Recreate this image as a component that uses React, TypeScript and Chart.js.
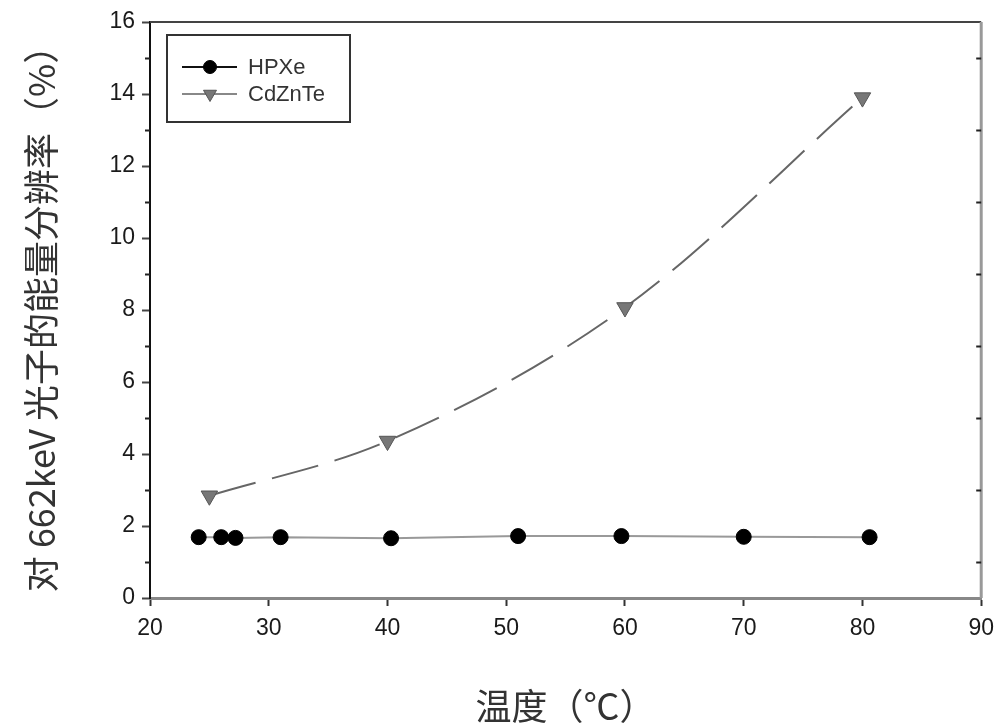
import React, { useEffect, useRef } from "react";
import { Chart, registerables } from "chart.js";

Chart.register(...registerables);

// ---- data ----
const hpxeTemps = [24.1, 26.0, 27.2, 31.0, 40.3, 51.0, 59.7, 70.0, 80.6];
const hpxeRes = [1.69, 1.69, 1.67, 1.69, 1.66, 1.72, 1.72, 1.70, 1.69];
const czTemps = [25, 40, 60, 80];
const czRes = [2.84, 4.36, 8.07, 13.9];
const seriesNames = ["HPXe", "CdZnTe"];
const xTitle = "温度（℃）";
const yTitle = "对 662keV 光子的能量分辨率（%）";
const xRange = [20, 90];
const yRange = [0, 16];

const TICK_FONT = "Liberation Sans, Arial, sans-serif";
const CJK_FONT = "'Noto Sans CJK SC', sans-serif";

const framePlugin = {
  id: "frame",
  afterDraw(chart: any) {
    const { ctx, chartArea } = chart;
    const { left, right, top, bottom } = chartArea;
    const y = chart.scales.y;
    ctx.save();
    ctx.strokeStyle = "#444";
    ctx.lineWidth = 2;
    ctx.beginPath();
    ctx.moveTo(left, top);
    ctx.lineTo(right, top);
    ctx.stroke();
    ctx.strokeStyle = "#999";
    ctx.lineWidth = 3;
    ctx.beginPath();
    ctx.moveTo(right, top);
    ctx.lineTo(right, bottom);
    ctx.stroke();
    ctx.strokeStyle = "#222";
    ctx.lineWidth = 2;
    for (let v = yRange[0] + 1; v < yRange[1]; v += 2) {
      const py = Math.round(y.getPixelForValue(v)) + 0.5;
      ctx.beginPath();
      ctx.moveTo(left - 5, py);
      ctx.lineTo(left, py);
      ctx.moveTo(right - 5, py);
      ctx.lineTo(right, py);
      ctx.stroke();
    }
    ctx.restore();
  },
};

const legendPlugin = {
  id: "boxLegend",
  afterDraw(chart: any) {
    const { ctx } = chart;
    const ds = chart.data.datasets;
    ctx.save();
    ctx.strokeStyle = "#333";
    ctx.lineWidth = 2;
    ctx.strokeRect(167, 35, 183, 87);
    const rows = [67, 94];
    ds.forEach((d: any, i: number) => {
      const ry = rows[i];
      ctx.strokeStyle = i === 0 ? "#111" : "#888";
      ctx.lineWidth = 2;
      ctx.setLineDash([]);
      ctx.beginPath();
      ctx.moveTo(182, ry);
      ctx.lineTo(237, ry);
      ctx.stroke();
      ctx.fillStyle = d.pointBackgroundColor;
      ctx.strokeStyle = d.pointBorderColor;
      ctx.lineWidth = 1;
      ctx.beginPath();
      if (i === 0) {
        ctx.arc(210, ry, 6.5, 0, Math.PI * 2);
      } else {
        const r = 7.5;
        ctx.moveTo(210, ry + r);
        ctx.lineTo(210 - r * 0.866, ry - r / 2);
        ctx.lineTo(210 + r * 0.866, ry - r / 2);
        ctx.closePath();
      }
      ctx.fill();
      ctx.stroke();
      ctx.fillStyle = "#333";
      ctx.font = `22px ${TICK_FONT}`;
      ctx.textBaseline = "middle";
      ctx.textAlign = "left";
      ctx.fillText(d.label, 248, ry + 1);
    });
    ctx.restore();
  },
};

export default function App() {
  const ref = useRef<HTMLCanvasElement | null>(null);
  useEffect(() => {
    if (!ref.current) return;
    const chart = new Chart(ref.current, {
      type: "line",
      data: {
        datasets: [
          {
            label: seriesNames[0],
            data: hpxeTemps.map((t, i) => ({ x: t, y: hpxeRes[i] })),
            borderColor: "#999",
            borderWidth: 2,
            pointStyle: "circle",
            pointRadius: 7.5,
            pointBackgroundColor: "#000",
            pointBorderColor: "#000",
            pointBorderWidth: 1,
            tension: 0,
          },
          {
            label: seriesNames[1],
            data: czTemps.map((t, i) => ({ x: t, y: czRes[i] })),
            borderColor: "#666",
            borderWidth: 2,
            borderDash: [48, 17],
            cubicInterpolationMode: "monotone",
            pointStyle: "triangle",
            pointRotation: 180,
            pointRadius: 9.5,
            pointBackgroundColor: "#777",
            pointBorderColor: "#555",
            pointBorderWidth: 1,
          },
        ],
      },
      options: {
        responsive: false,
        animation: false,
        devicePixelRatio: 1,
        layout: { padding: { top: 22, right: 21, left: 0, bottom: 0 } },
        plugins: { legend: { display: false }, tooltip: { enabled: false } },
        scales: {
          x: {
            type: "linear",
            min: xRange[0],
            max: xRange[1],
            afterFit: (s: any) => {
              s.height = 130;
            },
            ticks: {
              stepSize: 10,
              font: { family: TICK_FONT, size: 23 },
              color: "#1a1a1a",
              padding: 9,
            },
            grid: {
              drawOnChartArea: false,
              drawTicks: true,
              tickLength: 8,
              tickColor: "#333",
              tickWidth: 2,
            },
            border: { display: true, color: "#888", width: 3 },
            title: {
              display: true,
              text: xTitle,
              font: { family: CJK_FONT, size: 36 },
              color: "#333",
              padding: { top: 0, bottom: 0 },
            },
          },
          y: {
            type: "linear",
            min: yRange[0],
            max: yRange[1],
            afterFit: (s: any) => {
              s.width = 150;
            },
            ticks: {
              stepSize: 2,
              font: { family: TICK_FONT, size: 23 },
              color: "#1a1a1a",
              padding: 7,
            },
            grid: {
              drawOnChartArea: false,
              drawTicks: true,
              tickLength: 8,
              tickColor: "#444",
              tickWidth: 2,
            },
            border: { display: true, color: "#111", width: 2 },
            title: {
              display: true,
              text: yTitle,
              font: { family: CJK_FONT, size: 36 },
              color: "#333",
              padding: { top: 20, bottom: 0 },
            },
          },
        },
      },
      plugins: [framePlugin, legendPlugin],
    } as any);
    return () => chart.destroy();
  }, []);
  return (
    <div style={{ position: "absolute", left: 0, top: 0, width: 1003, height: 728, background: "#fff" }}>
      <canvas ref={ref} width={1003} height={728} style={{ display: "block" }} />
    </div>
  );
}
